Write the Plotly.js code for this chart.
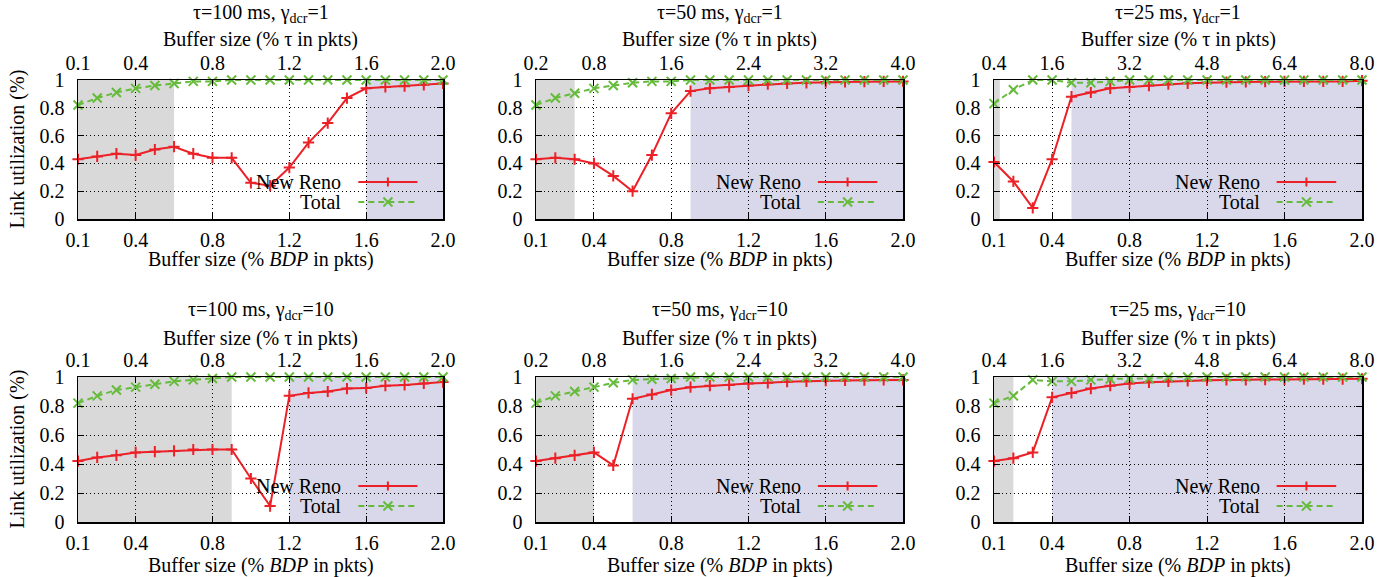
<!DOCTYPE html>
<html>
<head>
<meta charset="utf-8">
<script src="https://cdn.plot.ly/plotly-3.0.1.min.js"></script>
<style>html,body{margin:0;padding:0;background:#fff;}#chart{width:1394px;height:577px;}</style>
</head>
<body>
<div id="chart"></div>
<script>
// ---------- data ----------
const bufferBDP = [0.1,0.2,0.3,0.4,0.5,0.6,0.7,0.8,0.9,1.0,1.1,1.2,1.3,1.4,1.5,1.6,1.7,1.8,1.9,2.0];
const bottomTicks = [0.1,0.4,0.8,1.2,1.6,2.0];
const yTicks = [0,0.2,0.4,0.6,0.8,1];

const panelTitles = [
  'τ=100 ms, γ<sub>dcr</sub>=1', 'τ=50 ms, γ<sub>dcr</sub>=1', 'τ=25 ms, γ<sub>dcr</sub>=1',
  'τ=100 ms, γ<sub>dcr</sub>=10', 'τ=50 ms, γ<sub>dcr</sub>=10', 'τ=25 ms, γ<sub>dcr</sub>=10'
];
const topAxisTitle = 'Buffer size (% τ in pkts)';
const bottomAxisTitle = 'Buffer size (% <i>BDP</i> in pkts)';
const yAxisTitle = 'Link utilization (%)';
const seriesNames = ['New Reno', 'Total'];
// top axis: buffer size in % tau; scale factor relative to BDP axis
const tauFactor = [1, 2, 4, 1, 2, 4];

const newReno100g1 = [0.43,0.45,0.47,0.46,0.50,0.52,0.47,0.44,0.44,0.26,0.24,0.37,0.55,0.69,0.87,0.94,0.95,0.955,0.965,0.975];
const total100g1   = [0.82,0.87,0.91,0.94,0.96,0.975,0.99,0.99,1.0,1.0,1.0,1.0,1.0,1.0,1.0,1.0,1.0,1.0,1.0,1.0];
const newReno50g1  = [0.43,0.44,0.43,0.40,0.31,0.20,0.46,0.76,0.92,0.94,0.95,0.96,0.97,0.975,0.98,0.985,0.986,0.988,0.99,0.99];
const total50g1    = [0.82,0.87,0.905,0.94,0.96,0.98,0.99,0.99,1.0,1.0,1.0,1.0,1.0,1.0,1.0,1.0,1.0,1.0,1.0,1.0];
const newReno25g1  = [0.41,0.27,0.08,0.43,0.88,0.91,0.94,0.95,0.96,0.97,0.976,0.98,0.985,0.986,0.988,0.99,0.99,0.99,0.99,0.995];
const total25g1    = [0.83,0.93,1.0,1.0,0.98,0.98,0.99,1.0,1.0,1.0,1.0,1.0,1.0,1.0,1.0,1.0,1.0,1.0,1.0,1.0];
const newReno100g10 = [0.42,0.445,0.46,0.48,0.485,0.49,0.50,0.50,0.50,0.30,0.11,0.87,0.89,0.90,0.92,0.925,0.94,0.945,0.956,0.965];
const total100g10   = [0.82,0.87,0.91,0.93,0.95,0.97,0.98,0.99,1.0,1.0,1.0,1.0,1.0,1.0,1.0,1.0,1.0,1.0,1.0,1.0];
const newReno50g10  = [0.42,0.44,0.46,0.48,0.39,0.85,0.88,0.91,0.93,0.94,0.945,0.955,0.96,0.968,0.97,0.975,0.976,0.978,0.98,0.98];
const total50g10    = [0.82,0.87,0.90,0.93,0.96,0.98,0.985,0.99,1.0,1.0,1.0,1.0,1.0,1.0,1.0,1.0,1.0,1.0,1.0,1.0];
const newReno25g10  = [0.42,0.44,0.48,0.86,0.89,0.92,0.94,0.955,0.963,0.97,0.973,0.977,0.98,0.98,0.982,0.983,0.985,0.985,0.986,0.988];
const total25g10    = [0.82,0.87,0.98,0.97,0.97,0.98,0.986,0.99,0.99,1.0,1.0,1.0,1.0,1.0,1.0,1.0,1.0,1.0,1.0,1.0];

const newRenoSeries = [newReno100g1, newReno50g1, newReno25g1, newReno100g10, newReno50g10, newReno25g10];
const totalSeries   = [total100g1, total50g1, total25g1, total100g10, total50g10, total25g10];

// shaded regions (in BDP units): gray from 0.1 to grayEnd, lavender from lavenderStart to 2.0
const grayEnd       = [0.6, 0.3, 0.13, 0.9, 0.4, 0.2];
const lavenderStart = [1.6, 0.9, 0.5, 1.2, 0.6, 0.4];

// ---------- layout geometry ----------
const W = 1394, H = 577;
const colPx = [[78,443],[536,903],[994,1362]];
const rowPx = [[80,219],[377,522]];
const titleYpx = [13, 310];
const topTitleYpx = [40, 338];
const bottomTitleYpx = [259, 565];
const yTitleXpx = 17;

const FONT = {family: '"Liberation Serif", "Times New Roman", serif', size: 20, color: '#000'};
const RED = '#ec2027', GREEN = '#66bb3c';
const GRAY = '#d9d9d9', LAV = '#d8d8ea';

const data = [];
const layout = {
  width: W, height: H,
  margin: {l:0, r:0, t:0, b:0},
  paper_bgcolor: '#fff', plot_bgcolor: 'rgba(0,0,0,0)',
  font: FONT, showlegend: false,
  shapes: [], annotations: []
};

function axName(prefix, n){ return prefix + (n === 1 ? '' : n); }
function paperX(px){ return px / W; }
function paperY(px){ return 1 - px / H; }

for (let i = 0; i < 6; i++) {
  const col = i % 3, row = Math.floor(i / 3);
  const n = i + 1, nTop = i + 7;
  const [x0p, x1p] = colPx[col];
  const [y0p, y1p] = rowPx[row];
  const xd = [paperX(x0p), paperX(x1p)];
  const yd = [paperY(y1p), paperY(y0p)];
  const plotW = x1p - x0p, plotH = y1p - y0p;
  const xr = axName('x', n), yr = axName('y', n), xrTop = axName('x', nTop);

  data.push({
    type: 'scatter', mode: 'lines+markers', name: seriesNames[0],
    x: bufferBDP, y: newRenoSeries[i], xaxis: xr, yaxis: yr,
    line: {color: RED, width: 2},
    marker: {symbol: 'cross-thin-open', size: 8, color: RED, line: {color: RED, width: 2}},
    cliponaxis: false
  });
  data.push({
    type: 'scatter', mode: 'lines+markers', name: seriesNames[1],
    x: bufferBDP, y: totalSeries[i], xaxis: xr, yaxis: yr,
    line: {color: GREEN, width: 2, dash: '6px,4px'},
    marker: {symbol: 'x-thin-open', size: 9, color: GREEN, line: {color: GREEN, width: 2}},
    cliponaxis: false
  });
  // invisible trace to activate top axis
  data.push({
    type: 'scatter', mode: 'markers', x: [bufferBDP[0]*tauFactor[i]], y: [0],
    xaxis: xrTop, yaxis: yr, marker: {opacity: 0}, hoverinfo: 'skip', showlegend: false
  });

  const range = [bufferBDP[0], bufferBDP[bufferBDP.length - 1]];
  layout[axName('xaxis', n)] = {
    domain: xd, anchor: yr, range: range,
    tickmode: 'array', tickvals: bottomTicks, ticktext: bottomTicks.map(v => v.toFixed(1)),
    ticks: 'inside', ticklen: 6, tickwidth: 1, tickcolor: '#000', ticklabelstandoff: 2,
    showline: true, linecolor: '#000', linewidth: 1.5, mirror: false,
    showgrid: true, gridcolor: '#000', griddash: '1px,3px', gridwidth: 1,
    zeroline: false, tickfont: FONT, fixedrange: true
  };
  layout[axName('xaxis', nTop)] = {
    overlaying: xr, anchor: yr, side: 'top',
    range: range.map(v => v * tauFactor[i]),
    tickmode: 'array', tickvals: bottomTicks.map(v => v * tauFactor[i]),
    ticktext: bottomTicks.map(v => (v * tauFactor[i]).toFixed(1)),
    ticks: 'inside', ticklen: 6, tickwidth: 1, tickcolor: '#000', ticklabelstandoff: 1,
    showline: true, linecolor: '#000', linewidth: 1.5,
    showgrid: false, zeroline: false, tickfont: FONT, fixedrange: true
  };
  layout[axName('yaxis', n)] = {
    domain: yd, anchor: xr, range: [0, 1],
    tickmode: 'array', tickvals: yTicks, ticktext: yTicks.map(v => String(v)),
    ticks: 'inside', ticklen: 6, tickwidth: 1, tickcolor: '#000', ticklabelstandoff: 8,
    showline: true, linecolor: '#000', linewidth: 1.5, mirror: 'ticks',
    showgrid: true, gridcolor: '#000', griddash: '1px,3px', gridwidth: 1,
    zeroline: false, tickfont: FONT, fixedrange: true
  };

  // shaded regions
  layout.shapes.push({type: 'rect', layer: 'below', xref: xr, yref: yr + ' domain',
    x0: range[0], x1: grayEnd[i], y0: 0, y1: 1, fillcolor: GRAY, line: {width: 0}});
  layout.shapes.push({type: 'rect', layer: 'below', xref: xr, yref: yr + ' domain',
    x0: lavenderStart[i], x1: range[1], y0: 0, y1: 1, fillcolor: LAV, line: {width: 0}});

  // gnuplot-style key (text then sample)
  const keyY = row === 0 ? [37 / plotH, 17 / plotH] : [36 / plotH, 16 / plotH];
  const kx0 = 0.768, kx1 = 0.930, kxm = (kx0 + kx1) / 2, kText = 0.727;
  const hx = 4.5 / plotW, hy = 4.5 / plotH;
  const xdRef = xr + ' domain', ydRef = yr + ' domain';
  layout.shapes.push({type: 'line', xref: xdRef, yref: ydRef, x0: kx0, x1: kx1, y0: keyY[0], y1: keyY[0],
    line: {color: RED, width: 2}});
  layout.shapes.push({type: 'line', xref: xdRef, yref: ydRef, x0: kxm, x1: kxm, y0: keyY[0] - hy, y1: keyY[0] + hy,
    line: {color: RED, width: 2}});
  layout.shapes.push({type: 'line', xref: xdRef, yref: ydRef, x0: kx0, x1: kx1, y0: keyY[1], y1: keyY[1],
    line: {color: GREEN, width: 2, dash: '6px,4px'}});
  layout.shapes.push({type: 'line', xref: xdRef, yref: ydRef, x0: kxm - hx, x1: kxm + hx, y0: keyY[1] - hy, y1: keyY[1] + hy,
    line: {color: GREEN, width: 2}});
  layout.shapes.push({type: 'line', xref: xdRef, yref: ydRef, x0: kxm - hx, x1: kxm + hx, y0: keyY[1] + hy, y1: keyY[1] - hy,
    line: {color: GREEN, width: 2}});
  layout.annotations.push({xref: xdRef, yref: ydRef, x: kText, y: keyY[0], xanchor: 'right', yanchor: 'middle',
    text: seriesNames[0], showarrow: false, font: FONT});
  layout.annotations.push({xref: xdRef, yref: ydRef, x: kText, y: keyY[1], xanchor: 'right', yanchor: 'middle',
    text: seriesNames[1], showarrow: false, font: FONT});

  const cx = (xd[0] + xd[1]) / 2;
  layout.annotations.push({xref: 'paper', yref: 'paper', x: cx, y: paperY(titleYpx[row]),
    xanchor: 'center', yanchor: 'middle', text: panelTitles[i], showarrow: false, font: FONT});
  layout.annotations.push({xref: 'paper', yref: 'paper', x: cx, y: paperY(topTitleYpx[row]),
    xanchor: 'center', yanchor: 'middle', text: topAxisTitle, showarrow: false, font: FONT});
  layout.annotations.push({xref: 'paper', yref: 'paper', x: cx, y: paperY(bottomTitleYpx[row]),
    xanchor: 'center', yanchor: 'middle', text: bottomAxisTitle, showarrow: false, font: FONT});
  if (col === 0) {
    layout.annotations.push({xref: 'paper', yref: 'paper', x: paperX(yTitleXpx), y: (yd[0] + yd[1]) / 2,
      xanchor: 'center', yanchor: 'middle', textangle: -90, text: yAxisTitle, showarrow: false, font: FONT});
  }
}

Plotly.newPlot('chart', data, layout, {staticPlot: true, displayModeBar: false});
</script>
</body>
</html>
